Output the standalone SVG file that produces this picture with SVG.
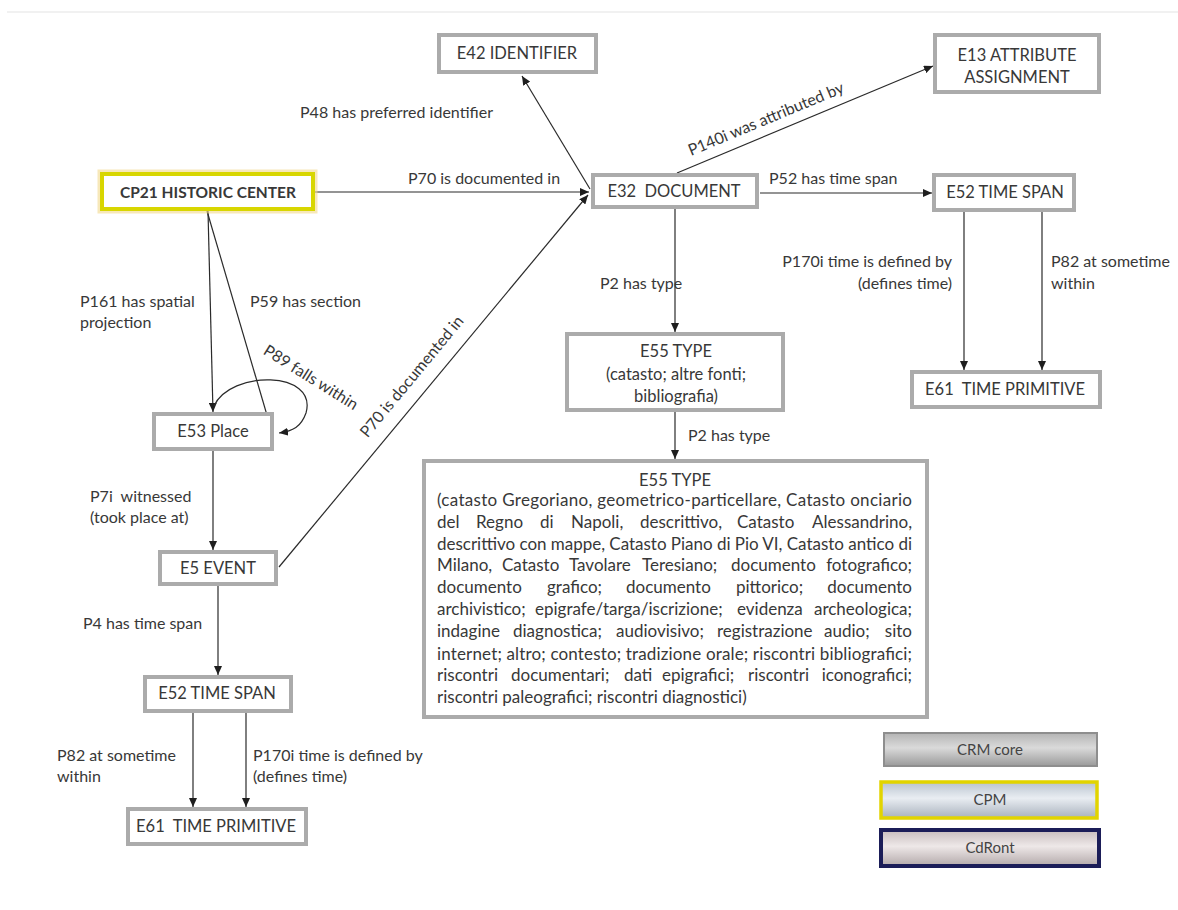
<svg xmlns="http://www.w3.org/2000/svg" width="1178" height="910" viewBox="0 0 1178 910">
  <defs>
    <marker id="arrow" viewBox="0 0 9 8" markerWidth="9" markerHeight="8" refX="9" refY="4" orient="auto" markerUnits="userSpaceOnUse">
      <path d="M0,0 L9,4 L0,8 z" fill="#1e1e1e"/>
    </marker>
    <linearGradient id="gCore" x1="0" y1="0" x2="0" y2="1">
      <stop offset="0" stop-color="#b4b4b4"/>
      <stop offset="0.45" stop-color="#dadada"/>
      <stop offset="1" stop-color="#9a9a9a"/>
    </linearGradient>
    <linearGradient id="gCpm" x1="0" y1="0" x2="0" y2="1">
      <stop offset="0" stop-color="#b9c3cf"/>
      <stop offset="0.45" stop-color="#e9edf2"/>
      <stop offset="1" stop-color="#a9b2bd"/>
    </linearGradient>
    <linearGradient id="gCdr" x1="0" y1="0" x2="0" y2="1">
      <stop offset="0" stop-color="#c6bcbd"/>
      <stop offset="0.45" stop-color="#eee8e8"/>
      <stop offset="1" stop-color="#b3a9aa"/>
    </linearGradient>
  </defs>
  <style>
    text { font-family: Lato, "Open Sans", "Liberation Sans", sans-serif; font-size: 16.5px; fill: #383838; }
    .node rect { fill: #ffffff; stroke: #ababab; stroke-width: 4; }
    .node text { text-anchor: middle; }
    .node text.body { text-anchor: start; font-size: 17px; }
    .node tspan.r { text-anchor: end; }
    .lbl text { font-size: 16px; }
    .conn path, .conn line { fill: none; stroke: #2a2a2a; stroke-width: 1.2; marker-end: url(#arrow); }
    .legend text { text-anchor: middle; font-size: 15px; fill: #444; }
  </style>

  <rect width="1178" height="910" fill="#ffffff"/>
  <line x1="7" y1="12" x2="1178" y2="12" stroke="#ececec" stroke-width="1.5"/>

  <!-- connectors -->
  <g id="connectors" class="conn">
    <line x1="315" y1="192" x2="589" y2="192"/>
    <line x1="590" y1="189" x2="522" y2="76"/>
    <line x1="677" y1="173" x2="933" y2="66"/>
    <line x1="760" y1="193" x2="932" y2="193"/>
    <line x1="675" y1="209" x2="675" y2="332"/>
    <line x1="675" y1="412" x2="675" y2="459"/>
    <line x1="964" y1="212" x2="964" y2="370"/>
    <line x1="1042" y1="212" x2="1042" y2="370"/>
    <line x1="208" y1="211" x2="213" y2="412"/>
    <line x1="207" y1="211" x2="269" y2="422"/>
    <path d="M214 406 C 230 370, 318 370, 306 413 C 301 427, 293 431, 279 433"/>
    <line x1="213" y1="451" x2="213" y2="550"/>
    <line x1="279" y1="567" x2="588" y2="195"/>
    <line x1="218" y1="586" x2="218" y2="675"/>
    <line x1="193" y1="713" x2="193" y2="807"/>
    <line x1="246" y1="713" x2="246" y2="807"/>
  </g>

  <!-- connector labels -->
  <g id="labels" class="lbl">
    <text x="408" y="184">P70 is documented in</text>
    <text x="300" y="118">P48 has preferred identifier</text>
    <text transform="translate(768,124) rotate(-22.6)" text-anchor="middle">P140i was attributed by</text>
    <text x="769" y="184">P52 has time span</text>
    <text x="600" y="289">P2 has type</text>
    <text x="688" y="441">P2 has type</text>
    <text x="952" y="267" text-anchor="end">P170i time is defined by</text>
    <text x="952" y="289" text-anchor="end">(defines time)</text>
    <text x="1051" y="267">P82 at sometime</text>
    <text x="1051" y="289">within</text>
    <text x="80" y="307">P161 has spatial</text>
    <text x="80" y="328">projection</text>
    <text x="250" y="307">P59 has section</text>
    <text transform="translate(308,382) rotate(32)" text-anchor="middle">P89 falls within</text>
    <text x="90" y="502" xml:space="preserve">P7i  witnessed</text>
    <text x="90" y="523">(took place at)</text>
    <text transform="translate(416,380) rotate(-50.4)" text-anchor="middle">P70 is documented in</text>
    <text x="83" y="629">P4 has time span</text>
    <text x="57" y="761">P82 at sometime</text>
    <text x="57" y="782">within</text>
    <text x="253" y="761">P170i time is defined by</text>
    <text x="253" y="782">(defines time)</text>
  </g>

  <!-- nodes -->
  <g id="e42" class="node">
    <rect x="439" y="35" width="157" height="37"/>
    <text x="517" y="59">E42 IDENTIFIER</text>
  </g>
  <g id="e13" class="node">
    <rect x="935" y="35" width="164" height="57"/>
    <text x="1017" y="61">E13 ATTRIBUTE</text>
    <text x="1017" y="83">ASSIGNMENT</text>
  </g>
  <g id="cp21" class="node">
    <rect x="101" y="173" width="213" height="37" style="stroke:#f3d98c;stroke-width:7;opacity:0.6"/>
    <rect x="102" y="174" width="211" height="35" style="stroke:#d8d600;stroke-width:4"/>
    <text x="208" y="198" style="font-weight:bold;font-size:15.5px">CP21 HISTORIC CENTER</text>
  </g>
  <g id="e32" class="node">
    <rect x="593" y="175" width="164" height="32"/>
    <text x="674" y="197" xml:space="preserve">E32  DOCUMENT</text>
  </g>
  <g id="e52-right" class="node">
    <rect x="934" y="175" width="140" height="35"/>
    <text x="1005" y="198">E52 TIME SPAN</text>
  </g>
  <g id="e55-small" class="node">
    <rect x="567" y="334" width="216" height="76"/>
    <text x="676" y="357">E55 TYPE</text>
    <text x="676" y="380">(catasto; altre fonti;</text>
    <text x="676" y="402">bibliografia)</text>
  </g>
  <g id="e61-right" class="node">
    <rect x="912" y="372" width="188" height="35"/>
    <text x="1005" y="395" xml:space="preserve">E61  TIME PRIMITIVE</text>
  </g>
  <g id="e53" class="node">
    <rect x="154" y="414" width="118" height="35"/>
    <text x="213" y="437">E53 Place</text>
  </g>
  <g id="e5" class="node">
    <rect x="160" y="552" width="116" height="32"/>
    <text x="218" y="574">E5 EVENT</text>
  </g>
  <g id="e52-left" class="node">
    <rect x="145" y="677" width="146" height="34"/>
    <text x="217" y="699">E52 TIME SPAN</text>
  </g>
  <g id="e61-left" class="node">
    <rect x="128" y="809" width="178" height="35"/>
    <text x="216" y="832" xml:space="preserve">E61  TIME PRIMITIVE</text>
  </g>
  <g id="e55-large" class="node">
    <rect x="424" y="461" width="503" height="256"/>
    <text x="675" y="486">E55 TYPE</text>
    <!-- justified paragraph: tight lines stretched with textLength, loose lines set word by word -->
    <text class="body" x="437" y="506" textLength="475" lengthAdjust="spacing">(catasto Gregoriano, geometrico-particellare, Catasto onciario</text>
    <text class="body" y="528"><tspan x="437">del</tspan><tspan x="476">Regno</tspan><tspan x="540">di</tspan><tspan x="571">Napoli,</tspan><tspan x="640">descrittivo,</tspan><tspan x="737">Catasto</tspan><tspan class="r" x="912">Alessandrino,</tspan></text>
    <text class="body" x="437" y="549.5" textLength="475" lengthAdjust="spacing">descrittivo con mappe, Catasto Piano di Pio VI, Catasto antico di</text>
    <text class="body" y="571"><tspan x="437">Milano,</tspan><tspan x="502">Catasto</tspan><tspan x="569">Tavolare</tspan><tspan x="642">Teresiano;</tspan><tspan x="731">documento</tspan><tspan class="r" x="912">fotografico;</tspan></text>
    <text class="body" y="593"><tspan x="437">documento</tspan><tspan x="547">grafico;</tspan><tspan x="626">documento</tspan><tspan x="736">pittorico;</tspan><tspan class="r" x="912">documento</tspan></text>
    <text class="body" y="614.5"><tspan x="437">archivistico;</tspan><tspan x="535">epigrafe/targa/iscrizione;</tspan><tspan x="737">evidenza</tspan><tspan class="r" x="912">archeologica;</tspan></text>
    <text class="body" y="637"><tspan x="437">indagine</tspan><tspan x="513">diagnostica;</tspan><tspan x="616">audiovisivo;</tspan><tspan x="717">registrazione</tspan><tspan x="824">audio;</tspan><tspan class="r" x="912">sito</tspan></text>
    <text class="body" x="437" y="659.5" textLength="475" lengthAdjust="spacing">internet; altro; contesto; tradizione orale; riscontri bibliografici;</text>
    <text class="body" y="681"><tspan x="437">riscontri</tspan><tspan x="511">documentari;</tspan><tspan x="624">dati</tspan><tspan x="662">epigrafici;</tspan><tspan x="748">riscontri</tspan><tspan class="r" x="912">iconografici;</tspan></text>
    <text class="body" x="437" y="703">riscontri paleografici; riscontri diagnostici)</text>
  </g>

  <!-- legend -->
  <g id="legend" class="legend">
    <g id="legend-crm-core">
      <rect x="884" y="733" width="213" height="33" fill="url(#gCore)" stroke="#8e8e8e" stroke-width="2"/>
      <text x="990" y="755">CRM core</text>
    </g>
    <g id="legend-cpm">
      <rect x="881" y="782" width="216" height="36" fill="url(#gCpm)" stroke="#e2d400" stroke-width="3.5"/>
      <text x="990" y="805">CPM</text>
    </g>
    <g id="legend-cdront">
      <rect x="881" y="830" width="218" height="36" fill="url(#gCdr)" stroke="#1b1d58" stroke-width="4"/>
      <text x="990" y="853">CdRont</text>
    </g>
  </g>
</svg>
